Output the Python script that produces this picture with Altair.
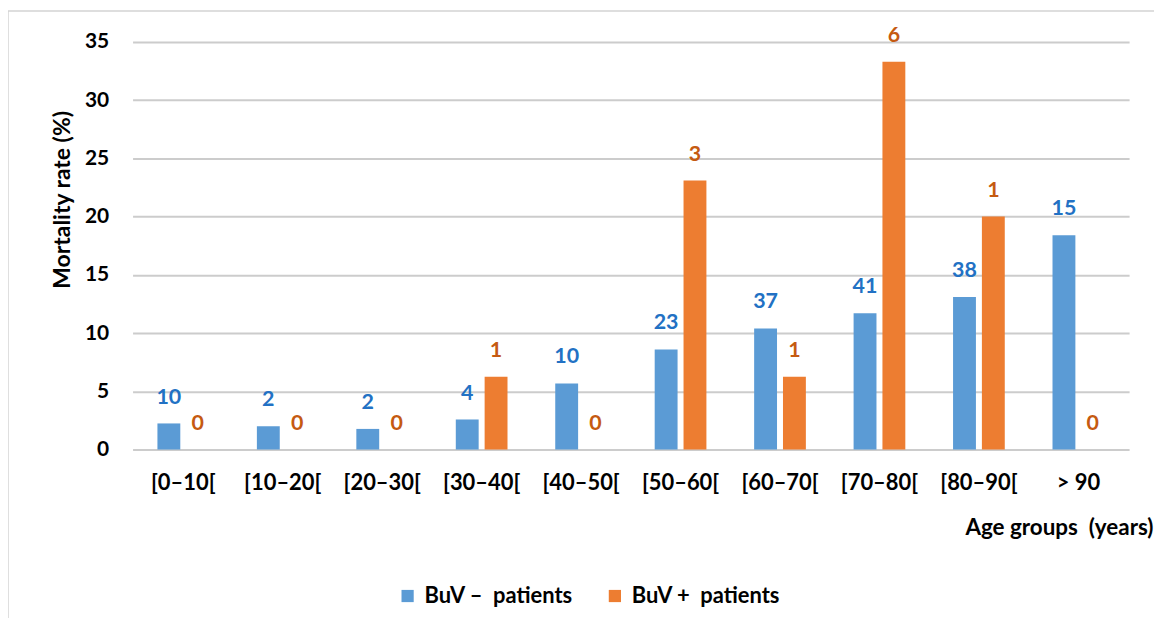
import altair as alt
import pandas as pd

categories = ["[0–10[", "[10–20[", "[20–30[", "[30–40[", "[40–50[",
              "[50–60[", "[60–70[", "[70–80[", "[80–90[", "> 90"]
neg_rate = [2.24, 2.0, 1.77, 2.58, 5.68, 8.6, 10.4, 11.7, 13.1, 18.4]
pos_rate = [0, 0, 0, 6.25, 0, 23.1, 6.25, 33.3, 20.0, 0]
neg_deaths = [10, 2, 2, 4, 10, 23, 37, 41, 38, 15]
pos_deaths = [0, 0, 0, 1, 0, 3, 1, 6, 1, 0]
series = ["BuV –\u00a0 patients", "BuV +\u00a0 patients"]
bar_colors = ["#5B9BD5", "#ED7D31"]
label_colors = ["#2271C4", "#C55A11"]

rows = []
for i, c in enumerate(categories):
    rows.append({"age": c, "group": series[0], "rate": neg_rate[i],
                 "deaths": neg_deaths[i], "lc": label_colors[0]})
    rows.append({"age": c, "group": series[1], "rate": pos_rate[i],
                 "deaths": pos_deaths[i], "lc": label_colors[1]})
df = pd.DataFrame(rows)

FONT = "Lato"

x_enc = alt.X("age:N", sort=categories,
              scale=alt.Scale(paddingInner=0.48, paddingOuter=0.25),
              axis=alt.Axis(title="Age groups\u00a0 (years)", labelAngle=0,
                            labelFontSize=22, labelFontWeight="bold",
                            labelColor="#000000", labelPadding=23,
                            ticks=False, domain=False, grid=False,
                            titleFontSize=22.5, titleFontWeight="bold",
                            titleColor="#000000", titleAlign="right",
                            titleBaseline="alphabetic",
                            titleX=1024, titleY=85))
xo_enc = alt.XOffset("group:N", sort=series,
                     scale=alt.Scale(paddingInner=0.207, paddingOuter=0))
y_enc = alt.Y("rate:Q", scale=alt.Scale(domain=[0, 35], nice=False),
              axis=alt.Axis(title="Mortality rate (%)", values=list(range(0, 36, 5)),
                            labelFontSize=21, labelFontWeight="bold",
                            labelColor="#000000", labelPadding=24,
                            ticks=False, domain=False,
                            gridColor="#cccccc", gridWidth=2,
                            titleFontSize=23, titleFontWeight="bold",
                            titleColor="#000000", titleAngle=270,
                            titleAlign="center", titleBaseline="middle",
                            titleX=-70, titleY=158))

bars = alt.Chart(df).mark_bar().encode(
    x=x_enc, xOffset=xo_enc, y=y_enc,
    color=alt.Color("group:N", sort=series,
                    scale=alt.Scale(domain=series, range=bar_colors),
                    legend=alt.Legend(title=None, orient="none", direction="horizontal",
                                      legendX=265, legendY=545,
                                      symbolType="square", symbolSize=150,
                                      symbolStrokeWidth=0,
                                      labelFontSize=22, labelFontWeight="bold",
                                      labelColor="#000000", labelOffset=6,
                                      columnPadding=30, padding=0)),
)

labels = alt.Chart(df).mark_text(baseline="alphabetic", dy=-20, fontSize=21.5,
                                 fontWeight="bold", font=FONT).encode(
    x=x_enc, xOffset=xo_enc, y=y_enc,
    text=alt.Text("deaths:Q"),
    color=alt.Color("lc:N", scale=None),
)

frame_df = pd.DataFrame({"k": [0]})
frame = alt.Chart(frame_df).mark_rect(fillOpacity=0, stroke="#d4d4d4",
                                      strokeWidth=1.5).encode(
    x=alt.value(-125), x2=alt.value(1060), y=alt.value(-31), y2=alt.value(640))

chart = alt.layer(frame, bars, labels).resolve_scale(color="independent").properties(
    width=1000, height=409,
    autosize=alt.AutoSizeParams(type="none"),
    padding={"left": 125, "top": 33, "right": 25, "bottom": 168},
).configure(font=FONT).configure_view(stroke=None)

chart.save("out.html", embed_options={"renderer": "svg", "actions": False})
